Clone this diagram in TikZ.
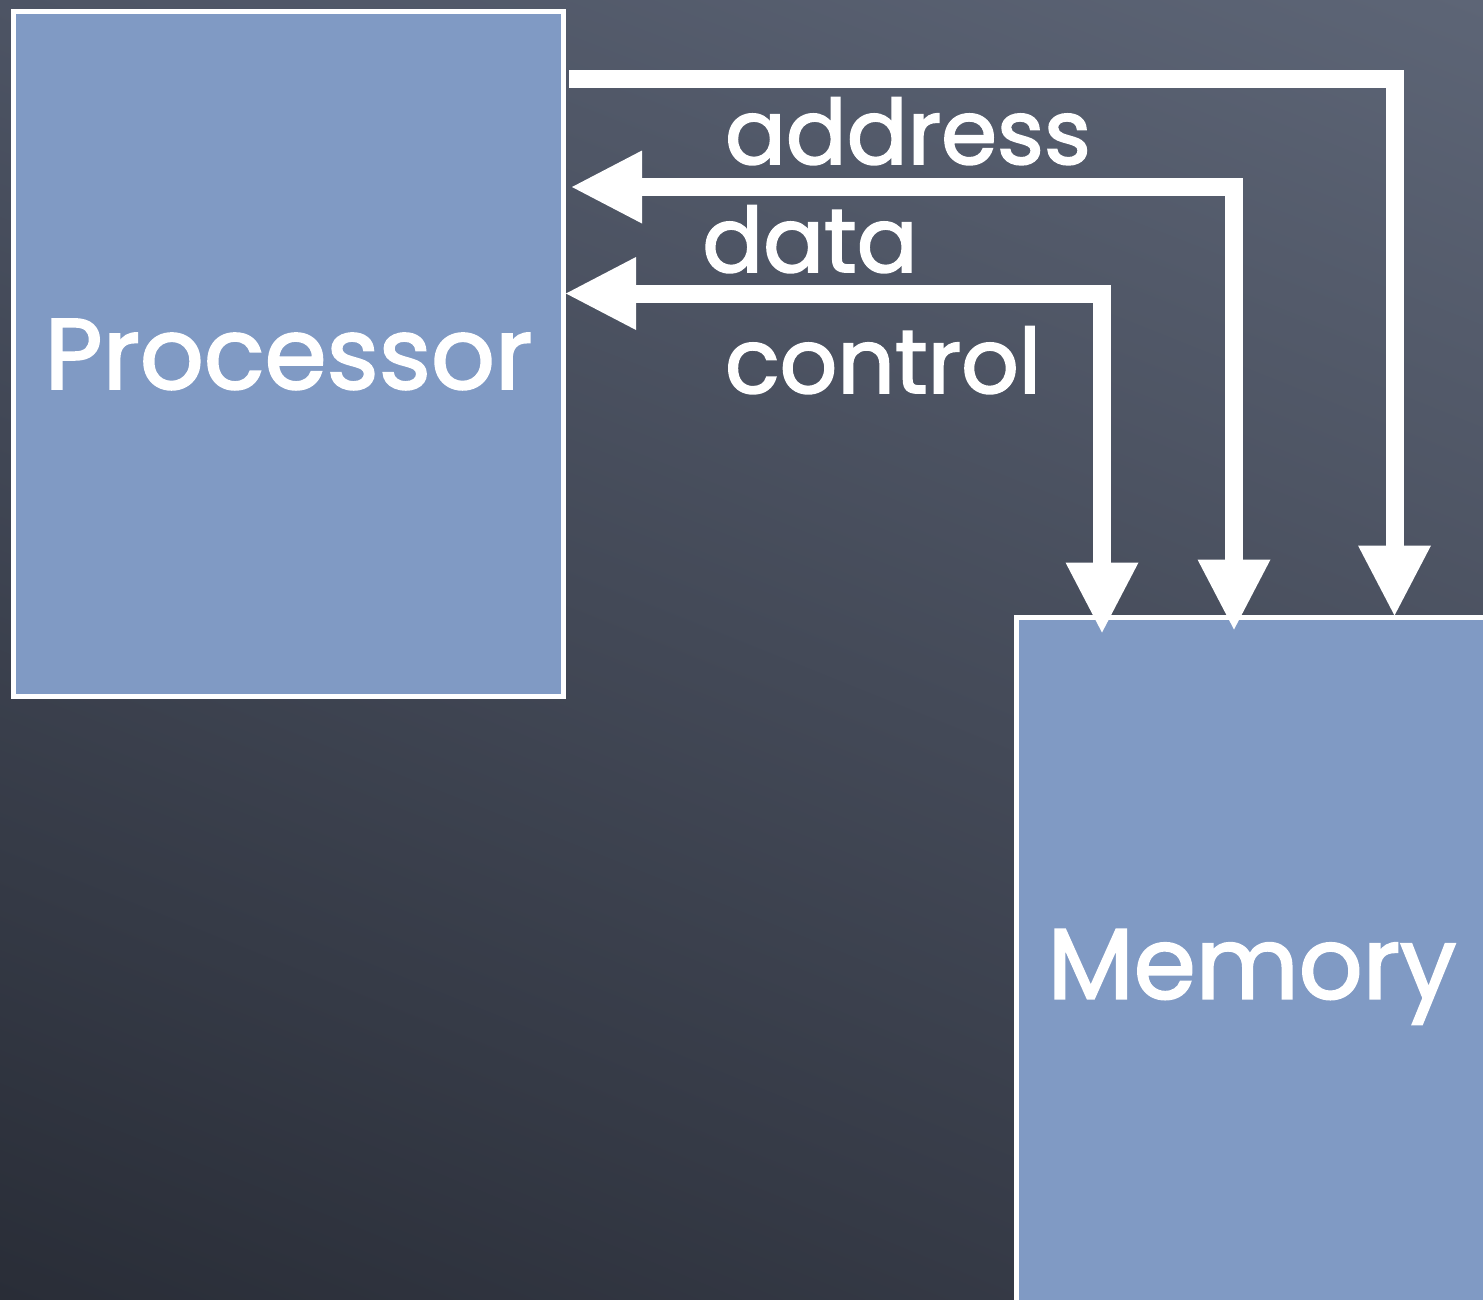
\documentclass[tikz,border=0pt]{standalone}
\usepackage{fontspec}
\setmainfont{Poppins}
\newfontfamily\chalkfont{Poppins}[FakeBold=2]
\usetikzlibrary{arrows.meta,calc,shadings}
\definecolor{boxblue}{HTML}{809AC4}
\definecolor{bgUL}{HTML}{4D5464}
\definecolor{bgUR}{HTML}{5D6576}
\definecolor{bgLL}{HTML}{292D37}
\definecolor{bgLR}{HTML}{3A3F4C}
\tikzset{
  boxnode/.style={draw=white, line width=5pt, fill=boxblue, text=white,
    font=\chalkfont\fontsize{100}{110}\selectfont, text depth=0pt, inner sep=0pt},
  lbl/.style={text=white, font=\chalkfont\fontsize{90}{100}\selectfont, inner sep=0pt, anchor=base},
  bus/.style={draw=white, line width=18pt, line join=miter},
  headtip/.tip={Triangle[width=73pt,length=70pt,line width=0pt]}
}
\begin{document}
\begin{tikzpicture}[x=1pt,y=-1pt]
\useasboundingbox (0,0) rectangle (1483,1299);
\shade[upper left=bgUL, upper right=bgUR, lower left=bgLL, lower right=bgLR] (0,0) rectangle (1483,1299);

\node[boxnode, minimum width=550pt, minimum height=685pt] (proc) at (288.5,354) {Processor};
\node[boxnode, minimum width=472pt, minimum height=694pt] (mem) at (1252,964) {Memory};

\coordinate (aY) at (0,78.5);
\coordinate (aX) at (1394.5,0);
\coordinate (dY) at (0,187);
\coordinate (dX) at (1234,0);
\coordinate (cY) at (0,293.5);
\coordinate (cX) at (1102,0);

\draw[bus, -headtip] ([xshift=3pt]proc.east |- aY) -| ([yshift=-1pt]mem.north -| aX);
\draw[bus, headtip-headtip] ([xshift=6pt]proc.east |- dY) -| ([yshift=-15pt]mem.north -| dX);
\draw[bus, headtip-headtip] ([xshift=0pt]proc.east |- cY) -| ([yshift=-18pt]mem.north -| cX);

\node[lbl] (lA) at (908,164) {address};
\node[lbl] (lD) at (810,272) {data};
\node[lbl] (lC) at (883,393) {control};
\end{tikzpicture}
\end{document}
